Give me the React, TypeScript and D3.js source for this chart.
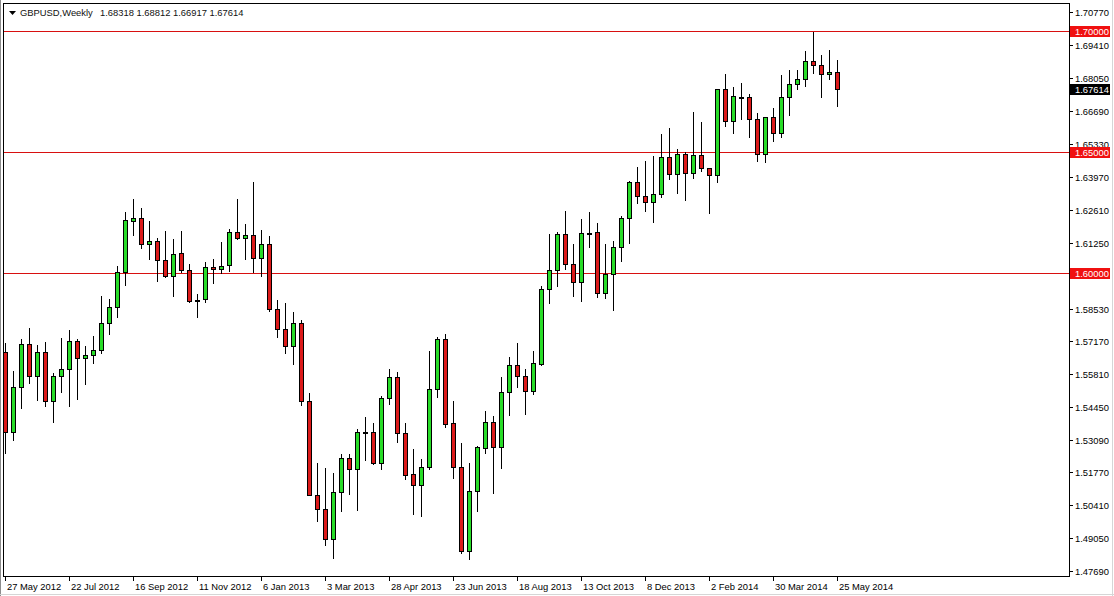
import React from "react";
import * as d3 from "d3";

const symbolTitle = "GBPUSD,Weekly";
const headerQuote = ["1.68318", "1.68812", "1.66917", "1.67614"];
const firstWeek = "2012-05-27";
const lastWeek = "2014-05-25";

const opens = [
  1.5672, 1.5342, 1.5528, 1.5705, 1.5573, 1.5672, 1.547, 1.5573, 1.5602, 1.5718,
  1.5648, 1.566, 1.5681, 1.5792, 1.5858, 1.6003, 1.6216, 1.6226, 1.6119, 1.6132,
  1.6054, 1.5989, 1.6083, 1.6011, 1.589, 1.5891, 1.6024, 1.6015, 1.6032, 1.6169,
  1.6143, 1.6156, 1.6061, 1.6119, 1.585, 1.5767, 1.5697, 1.5792, 1.547, 1.5084,
  1.5024, 1.49, 1.5094, 1.5234, 1.5189, 1.5344, 1.5344, 1.5216, 1.5482, 1.5569,
  1.5338, 1.5168, 1.5123, 1.5197, 1.5519, 1.5726, 1.5379, 1.52, 1.485, 1.51,
  1.5276, 1.5383, 1.528, 1.5507, 1.5619, 1.5573, 1.5511, 1.5624, 1.5933, 1.6011,
  1.616, 1.6036, 1.5962, 1.6167, 1.6168, 1.5916, 1.5995, 1.6106, 1.6226, 1.6375,
  1.632, 1.6295, 1.6325, 1.6479, 1.6408, 1.649, 1.6412, 1.6488, 1.6433, 1.6404,
  1.6759, 1.6627, 1.6729, 1.6726, 1.6638, 1.6492, 1.6643, 1.6577, 1.6726, 1.678,
  1.68, 1.6875, 1.6858, 1.6821, 1.68318,
];
const highs = [
  1.571, 1.5595, 1.5727, 1.5774, 1.5702, 1.5715, 1.5588, 1.5731, 1.5764, 1.5726,
  1.5698, 1.574, 1.5905, 1.5891, 1.6029, 1.6252, 1.6306, 1.6269, 1.6216, 1.6145,
  1.6174, 1.6141, 1.6174, 1.6036, 1.5912, 1.6044, 1.6057, 1.6128, 1.6181, 1.6305,
  1.6202, 1.6375, 1.6176, 1.6152, 1.5888, 1.5877, 1.5838, 1.5806, 1.5503, 1.5216,
  1.5193, 1.5172, 1.5252, 1.5252, 1.5354, 1.5406, 1.5379, 1.549, 1.5602, 1.5591,
  1.5379, 1.5273, 1.523, 1.5678, 1.5734, 1.5748, 1.5471, 1.5296, 1.5214, 1.5285,
  1.543, 1.5408, 1.5569, 1.5652, 1.571, 1.5605, 1.5676, 1.5946, 1.6161, 1.6171,
  1.6256, 1.612, 1.6222, 1.6251, 1.6205, 1.6119, 1.6132, 1.6236, 1.6381, 1.6439,
  1.6463, 1.6483, 1.6574, 1.66, 1.6511, 1.6501, 1.6667, 1.6625, 1.6433, 1.6759,
  1.6824, 1.6769, 1.6785, 1.674, 1.6662, 1.6646, 1.6681, 1.6818, 1.6839, 1.6839,
  1.6916, 1.6997, 1.6902, 1.6921, 1.68812,
];
const lows = [
  1.5255, 1.531, 1.5443, 1.5547, 1.5475, 1.5452, 1.5386, 1.551, 1.545, 1.5481,
  1.554, 1.5629, 1.5668, 1.5747, 1.5819, 1.595, 1.6157, 1.6105, 1.6058, 1.5968,
  1.5985, 1.5906, 1.6004, 1.5881, 1.5819, 1.5879, 1.5957, 1.5999, 1.6007, 1.6141,
  1.6058, 1.6003, 1.5986, 1.5844, 1.5737, 1.5668, 1.5623, 1.5453, 1.5081, 1.4976,
  1.4875, 1.4821, 1.5018, 1.5086, 1.5021, 1.5227, 1.5211, 1.5189, 1.5459, 1.5302,
  1.5149, 1.5004, 1.4996, 1.5189, 1.5486, 1.5362, 1.5154, 1.4843, 1.4817, 1.5018,
  1.5255, 1.5092, 1.5195, 1.5414, 1.553, 1.5419, 1.5499, 1.5621, 1.5877, 1.5946,
  1.6015, 1.5906, 1.5886, 1.6109, 1.5902, 1.5898, 1.5847, 1.6051, 1.6125, 1.6288,
  1.6257, 1.6211, 1.6315, 1.639, 1.6331, 1.6302, 1.6391, 1.6423, 1.6247, 1.6377,
  1.6607, 1.658, 1.6635, 1.6563, 1.6464, 1.646, 1.6547, 1.6561, 1.6654, 1.6759,
  1.6774, 1.6828, 1.6729, 1.68, 1.66917,
];
const closes = [
  1.5342, 1.5528, 1.5705, 1.5573, 1.5672, 1.547, 1.5573, 1.5602, 1.5718, 1.5648,
  1.566, 1.5681, 1.5792, 1.5858, 1.6003, 1.6218, 1.6226, 1.6119, 1.6132, 1.6052,
  1.5989, 1.6077, 1.6011, 1.5886, 1.589, 1.6024, 1.6015, 1.6028, 1.6169, 1.6143,
  1.6156, 1.6061, 1.6119, 1.585, 1.5767, 1.5697, 1.5792, 1.547, 1.5084, 1.5024,
  1.49, 1.5094, 1.5234, 1.5189, 1.5342, 1.5344, 1.5216, 1.5482, 1.5569, 1.5338,
  1.5167, 1.5123, 1.5197, 1.5519, 1.5726, 1.5377, 1.52, 1.485, 1.51, 1.528,
  1.5383, 1.528, 1.5507, 1.5619, 1.5573, 1.5511, 1.5627, 1.5933, 1.6011, 1.616,
  1.6036, 1.5962, 1.6164, 1.6167, 1.5916, 1.5995, 1.6106, 1.6226, 1.6375, 1.632,
  1.6292, 1.6326, 1.6479, 1.6408, 1.649, 1.6412, 1.6488, 1.6433, 1.6404, 1.6759,
  1.6627, 1.673, 1.6729, 1.6638, 1.6492, 1.6643, 1.6577, 1.6726, 1.678, 1.68,
  1.6875, 1.6858, 1.6821, 1.6829, 1.67614,
];

const xTickLabels = [
  "27 May 2012", "22 Jul 2012", "16 Sep 2012", "11 Nov 2012", "6 Jan 2013",
  "3 Mar 2013", "28 Apr 2013", "23 Jun 2013", "18 Aug 2013", "13 Oct 2013",
  "8 Dec 2013", "2 Feb 2014", "30 Mar 2014", "25 May 2014",
];
const yTickLabels = [
  "1.70770", "1.69410", "1.68050", "1.66690", "1.65330", "1.63970", "1.62610",
  "1.61250", "1.58530", "1.57170", "1.55810", "1.54450", "1.53090", "1.51770",
  "1.50410", "1.49050", "1.47690",
];
const levelLines = [1.7, 1.65, 1.6];
const lastPrice = 1.67614;

const FONT = "'Liberation Sans', Arial, Helvetica, sans-serif";
const FS = 9.4;
const GREEN = "#28dc28";
const RED = "#dc1a1a";
const LEVEL = "#d81010";

export default function App() {
  const parseDay = d3.utcParse("%Y-%m-%d");
  const parseLabel = d3.utcParse("%d %b %Y");
  const start = parseDay(firstWeek) as Date;
  const end = parseDay(lastWeek) as Date;
  const dates = d3.utcWeek.range(start, d3.utcDay.offset(end, 1));

  const x = d3.scaleUtc().domain([start, end]).range([5, 837]);
  const y = d3.scaleLinear().domain([1.6, 1.7]).range([273, 31]);
  const row = (v: number) => Math.round(y(v));

  const fmt = d3.format(".5f");

  const candles = dates.map((d, i) => ({
    date: d,
    o: opens[i],
    h: highs[i],
    l: lows[i],
    c: closes[i],
  }));

  return (
    <svg
      width={1114}
      height={596}
      style={{ position: "absolute", left: 0, top: 0, background: "#fff" }}
      fontFamily={FONT}
      fontSize={FS}
    >
      <rect x={0} y={0} width={1114} height={596} fill="#fff" />
      {/* outer window edges */}
      <line x1={0.5} x2={0.5} y1={0} y2={596} stroke="#8c8c8c" />
      <line x1={1112.5} x2={1112.5} y1={0} y2={596} stroke="#d6d6d6" />
      <line x1={0} x2={1114} y1={594.5} y2={594.5} stroke="#d6d6d6" />

      <defs>
        <clipPath id="plotClip">
          <rect x={4} y={4} width={1065} height={572} />
        </clipPath>
      </defs>

      {/* level lines */}
      {levelLines.map((v) => (
        <line
          key={"lv" + v}
          x1={4}
          x2={1069}
          y1={row(v) + 0.5}
          y2={row(v) + 0.5}
          stroke={LEVEL}
        />
      ))}

      {/* candles */}
      <g clipPath="url(#plotClip)">
        {candles.map((d, i) => {
          const cx = Math.round(x(d.date));
          const yo = row(d.o);
          const yc = row(d.c);
          const top = Math.min(yo, yc);
          const bot = Math.max(yo, yc);
          const bull = d.c > d.o;
          return (
            <g key={i}>
              <line
                x1={cx + 0.5}
                x2={cx + 0.5}
                y1={row(d.h)}
                y2={row(d.l) + 1}
                stroke="#000"
              />
              {bot - top >= 2 ? (
                <rect
                  x={cx - 1.5}
                  y={top + 0.5}
                  width={4}
                  height={bot - top}
                  fill={bull ? GREEN : RED}
                  stroke="#000"
                />
              ) : (
                <rect x={cx - 2} y={top} width={5} height={2} fill="#000" />
              )}
            </g>
          );
        })}
      </g>

      {/* frame */}
      <rect x={3.5} y={3.5} width={1066} height={573} fill="none" stroke="#000" />

      {/* y axis */}
      {yTickLabels.map((t) => {
        const r = row(+t);
        return (
          <g key={"yt" + t}>
            <line x1={1070} x2={1073} y1={r + 0.5} y2={r + 0.5} stroke="#000" />
            <text x={1075} y={r + 0.5} dominantBaseline="central" fill="#000">
              {t}
            </text>
          </g>
        );
      })}

      {/* level labels */}
      {levelLines.map((v) => {
        const r = row(v);
        return (
          <g key={"ll" + v}>
            <rect x={1070} y={r - 5} width={40} height={11} fill="#f01010" />
            <text x={1075} y={r + 0.5} dominantBaseline="central" fill="#fff">
              {fmt(v)}
            </text>
          </g>
        );
      })}

      {/* last price label */}
      <g>
        <rect x={1070} y={row(lastPrice) - 5} width={40} height={11} fill="#000" />
        <text
          x={1075}
          y={row(lastPrice) + 0.5}
          dominantBaseline="central"
          fill="#fff"
        >
          {fmt(lastPrice)}
        </text>
      </g>

      {/* x axis */}
      {xTickLabels.map((t) => {
        const cx = Math.round(x(parseLabel(t) as Date));
        return (
          <g key={"xt" + t}>
            <line x1={cx + 0.5} x2={cx + 0.5} y1={577} y2={581} stroke="#000" />
            <text x={cx + 2} y={590} fill="#000">
              {t}
            </text>
          </g>
        );
      })}

      {/* header */}
      <polygon points="9,11 16,11 12.5,15" fill="#000" />
      <text x={20} y={16} fill="#111">
        {symbolTitle}
      </text>
      <text x={100} y={16} fill="#111">
        {headerQuote.join(" ")}
      </text>
    </svg>
  );
}
